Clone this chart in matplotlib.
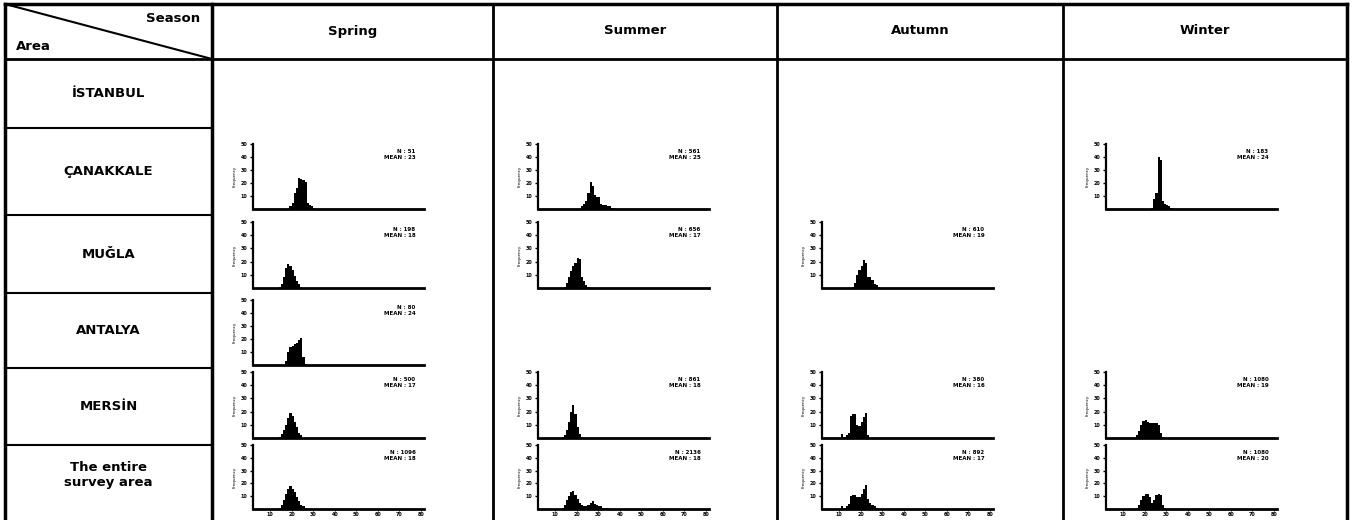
import numpy as np
import matplotlib
matplotlib.use('Agg')
import matplotlib.pyplot as plt

# table labels
AREAS = ['İSTANBUL', 'ÇANAKKALE', 'MUĞLA', 'ANTALYA', 'MERSİN', 'The entire\nsurvey area']
SEASONS = ['Spring', 'Summer', 'Autumn', 'Winter']
X_TICKS = [10, 20, 30, 40, 50, 60, 70, 80]
Y_TICKS = [10, 20, 30, 40, 50]

# length-frequency histograms: first bin (cm) and frequencies per 1 cm bin
CAN_SPR_START, CAN_SPR = 19, [2, 5, 12, 16, 24, 23, 22, 21, 5, 3, 2, 1]
CAN_SUM_START, CAN_SUM = 22, [2, 4, 6, 12, 21, 18, 11, 9, 9, 4, 3, 3, 2, 2, 1, 1]
CAN_WIN_START, CAN_WIN = 23, [1, 8, 12, 40, 38, 6, 4, 3, 2, 1]
MUG_SPR_START, MUG_SPR = 14, [1, 3, 8, 15, 18, 17, 14, 9, 5, 3, 1]
MUG_SUM_START, MUG_SUM = 14, [1, 4, 8, 13, 17, 19, 23, 22, 8, 5, 2, 1]
MUG_AUT_START, MUG_AUT = 16, [1, 4, 10, 14, 17, 21, 19, 8, 8, 6, 3, 2, 1]
ANT_SPR_START, ANT_SPR = 17, [3, 10, 14, 15, 16, 17, 19, 21, 6, 1]
MER_SPR_START, MER_SPR = 14, [1, 3, 6, 10, 15, 19, 17, 12, 8, 4, 2]
MER_SUM_START, MER_SUM = 13, [1, 2, 6, 12, 20, 25, 18, 8, 3, 1]
MER_AUT_START, MER_AUT = 11, [3, 1, 2, 4, 17, 18, 18, 10, 9, 12, 16, 19, 2]
MER_WIN_START, MER_WIN = 16, [2, 5, 10, 13, 14, 12, 11, 11, 11, 11, 10, 4, 1]
ALL_SPR_START, ALL_SPR = 14, [1, 3, 7, 12, 16, 18, 16, 13, 9, 6, 3, 2, 1]
ALL_SUM_START, ALL_SUM = 13, [1, 3, 7, 10, 13, 14, 11, 8, 5, 3, 2, 2, 3, 5, 6, 4, 3, 2, 2, 1, 1, 1]
ALL_AUT_START, ALL_AUT = 11, [2, 1, 2, 4, 10, 11, 11, 9, 9, 12, 16, 19, 8, 5, 3, 2, 1]
ALL_WIN_START, ALL_WIN = 16, [1, 3, 7, 10, 12, 12, 9, 5, 7, 11, 12, 11, 3, 1]

# sample size and mean length shown in each panel
N_VALUES = {(1, 0): 51, (1, 1): 561, (1, 3): 183,
            (2, 0): 198, (2, 1): 656, (2, 2): 610,
            (3, 0): 80,
            (4, 0): 500, (4, 1): 861, (4, 2): 380, (4, 3): 1080,
            (5, 0): 1096, (5, 1): 2136, (5, 2): 892, (5, 3): 1080}
MEAN_VALUES = {(1, 0): 23, (1, 1): 25, (1, 3): 24,
               (2, 0): 18, (2, 1): 17, (2, 2): 19,
               (3, 0): 24,
               (4, 0): 17, (4, 1): 18, (4, 2): 16, (4, 3): 19,
               (5, 0): 18, (5, 1): 18, (5, 2): 17, (5, 3): 20}

panels = {
    (1, 0): (CAN_SPR_START, CAN_SPR), (1, 1): (CAN_SUM_START, CAN_SUM), (1, 3): (CAN_WIN_START, CAN_WIN),
    (2, 0): (MUG_SPR_START, MUG_SPR), (2, 1): (MUG_SUM_START, MUG_SUM), (2, 2): (MUG_AUT_START, MUG_AUT),
    (3, 0): (ANT_SPR_START, ANT_SPR),
    (4, 0): (MER_SPR_START, MER_SPR), (4, 1): (MER_SUM_START, MER_SUM),
    (4, 2): (MER_AUT_START, MER_AUT), (4, 3): (MER_WIN_START, MER_WIN),
    (5, 0): (ALL_SPR_START, ALL_SPR), (5, 1): (ALL_SUM_START, ALL_SUM),
    (5, 2): (ALL_AUT_START, ALL_AUT), (5, 3): (ALL_WIN_START, ALL_WIN),
}

W, H = 1353, 520
fig = plt.figure(figsize=(W / 100, H / 100), dpi=100)
fig.patch.set_facecolor('white')

# layout in pixels
col_x = [5, 212, 493, 777, 1063, 1347]
row_y = [4, 59, 128, 215, 293, 368, 445, 540]
ax_left = [253, 538, 822, 1106]
ax_w = 171
ax_rows = {1: (144, 209), 2: (222, 288), 3: (300, 365), 4: (372, 438), 5: (445, 509)}

# table grid
grid = fig.add_axes([0, 0, 1, 1])
grid.set_xlim(0, W)
grid.set_ylim(H, 0)
grid.axis('off')
lw = 2
grid.plot([col_x[0], col_x[-1]], [row_y[0], row_y[0]], color='black', lw=2.5)
grid.plot([col_x[0], col_x[-1]], [row_y[1], row_y[1]], color='black', lw=lw)
for x in col_x:
    grid.plot([x, x], [row_y[0], H], color='black', lw=2.5 if x in (col_x[0], col_x[1], col_x[-1]) else lw)
for y in row_y[2:-1]:
    grid.plot([col_x[0], col_x[1]], [y, y], color='black', lw=1.5)
grid.plot([col_x[0], col_x[1]], [row_y[0], row_y[1]], color='black', lw=1.5)

txt = dict(fontweight='bold', fontsize=9.5, color='black', family='DejaVu Sans')
grid.text(200, 19, 'Season', ha='right', va='center', **txt)
grid.text(16, 47, 'Area', ha='left', va='center', **txt)
for i, s in enumerate(SEASONS):
    grid.text((col_x[i + 1] + col_x[i + 2]) / 2, 31, s, ha='center', va='center', **txt)
for i, a in enumerate(AREAS):
    y0 = row_y[i + 1]
    y1 = row_y[i + 2] if i < len(AREAS) - 1 else 505
    grid.text((col_x[0] + col_x[1]) / 2, (y0 + y1) / 2, a, ha='center', va='center',
              linespacing=1.25, **txt)

# histograms
for (r, c), (start, freqs) in panels.items():
    top, bot = ax_rows[r]
    ax = fig.add_axes([ax_left[c] / W, 1 - bot / H, ax_w / W, (bot - top) / H])
    edges = np.arange(start, start + len(freqs) + 1)
    ax.stairs(freqs, edges, fill=True, color='black')
    ax.set_xlim(2.1, 81.4)
    ax.set_ylim(0, 50)
    ax.patch.set_alpha(0)
    for side in ('top', 'right'):
        ax.spines[side].set_visible(False)
    ax.spines['left'].set_linewidth(1.6)
    ax.spines['bottom'].set_linewidth(2)
    ax.set_yticks(Y_TICKS)
    ax.set_yticklabels([str(v) for v in Y_TICKS], fontsize=3.5, fontweight='bold')
    ax.tick_params(axis='y', length=2, width=1, pad=2)
    ax.set_xticks(X_TICKS)
    if r == 5:
        ax.set_xticklabels([str(v) for v in X_TICKS], fontsize=3.5, fontweight='bold')
        ax.tick_params(axis='x', length=1.5, width=0.8, pad=1)
    else:
        ax.set_xticklabels([])
        ax.tick_params(axis='x', length=0)
    ax.set_ylabel('Frequency', fontsize=3, labelpad=3)
    ax.text(0.95, 0.92, f'N : {N_VALUES[(r, c)]}\nMEAN : {MEAN_VALUES[(r, c)]}',
            transform=ax.transAxes, ha='right', va='top', fontsize=4,
            fontweight='bold', linespacing=1.1)

fig.savefig('out.png', dpi=100, facecolor='white')
